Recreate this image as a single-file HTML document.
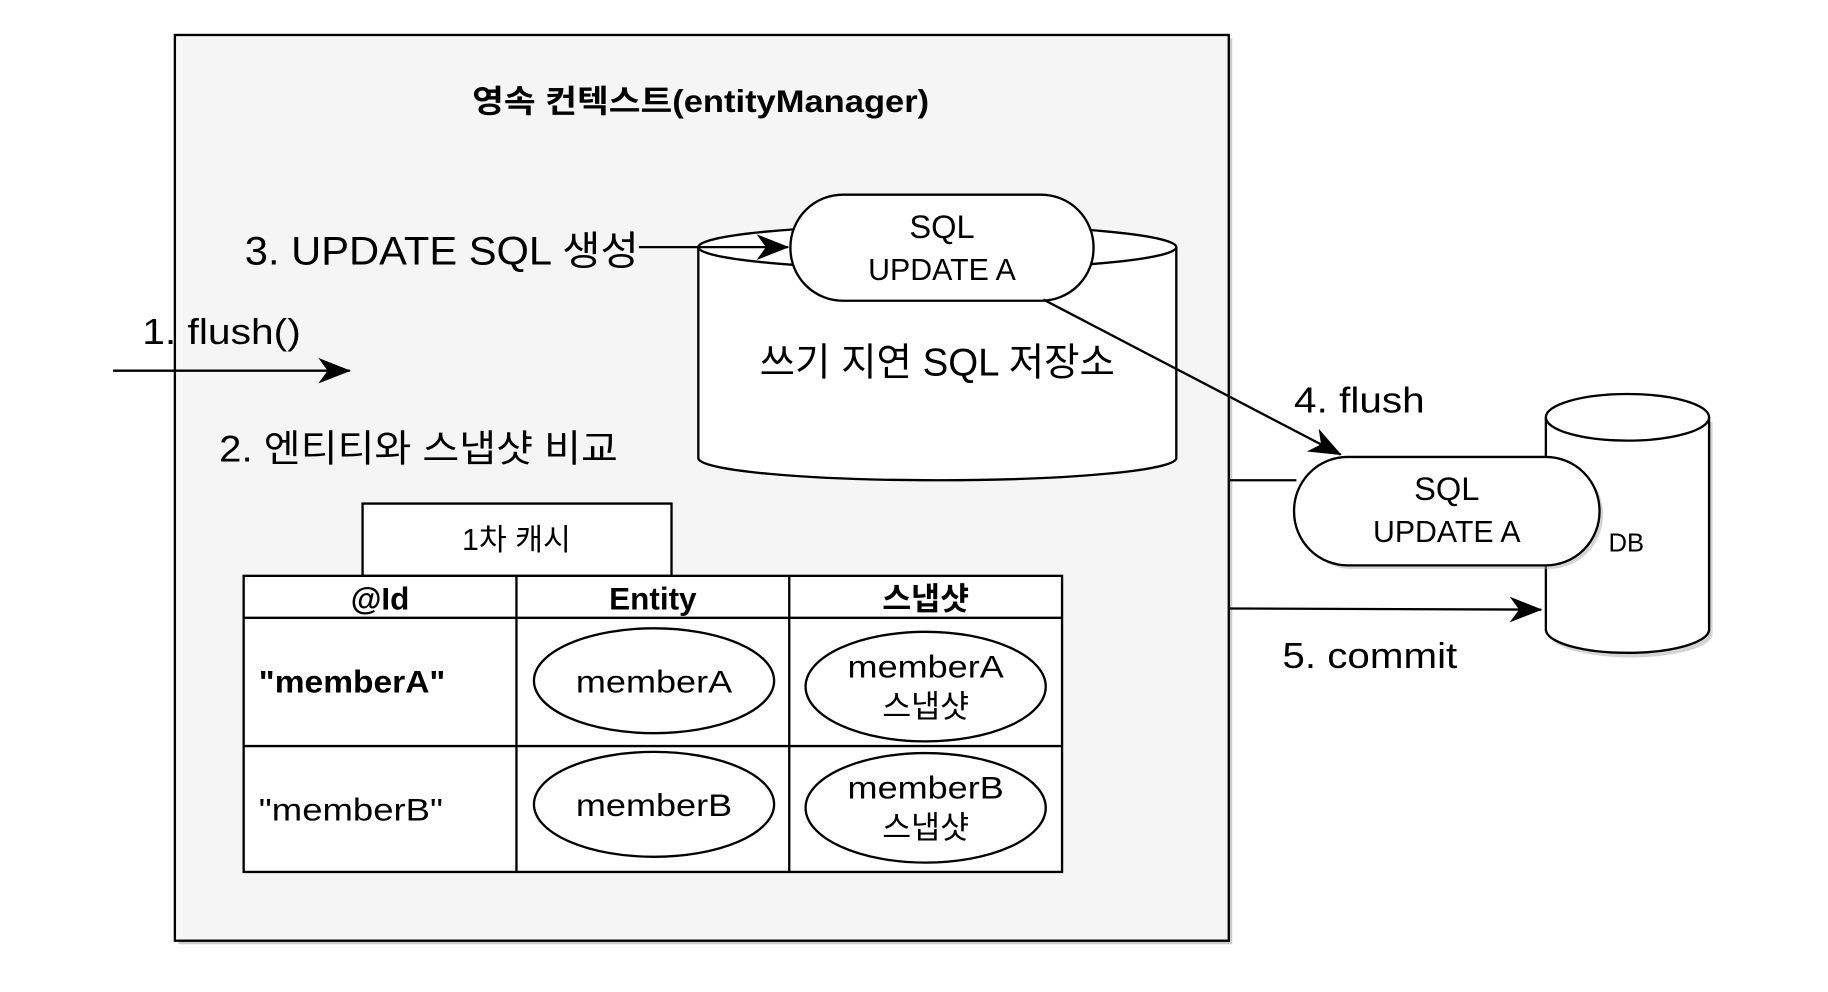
<!DOCTYPE html>
<html><head><meta charset="utf-8"><style>
html,body{margin:0;padding:0;background:#fff;}
svg{display:block;}
text{font-family:"Liberation Sans","Noto Sans CJK KR",sans-serif;fill:#000;}
</style></head><body>
<svg width="1828" height="992" viewBox="0 0 1568 851" preserveAspectRatio="none" xmlns="http://www.w3.org/2000/svg">
<defs>
<marker id="ah2" markerWidth="28" markerHeight="22" refX="27" refY="11" orient="auto" markerUnits="userSpaceOnUse" viewBox="0 0 28 22">
<path d="M0,0 L28,11 L0,22 L8,11 Z" fill="#000"/>
</marker>
</defs>
<rect x="153" y="33" width="904" height="777" fill="#999" opacity="0.5"/>
<rect x="150" y="30" width="904" height="777" fill="#f5f5f5" stroke="#000" stroke-width="2"/>
<text x="405" y="96" font-size="27" font-weight="bold" textLength="392" lengthAdjust="spacingAndGlyphs">영속 컨텍스트(entityManager)</text>

<path d="M599,212 L599,393 A205,19 0 0 0 1009,393 L1009,212" fill="#fff" stroke="#000" stroke-width="2"/>
<ellipse cx="804" cy="212" rx="205" ry="19" fill="#fff" stroke="#000" stroke-width="2"/>
<rect x="678" y="167" width="260" height="91" rx="45" fill="#fff" stroke="#000" stroke-width="2"/>
<text x="808" y="204" font-size="28" text-anchor="middle">SQL</text>
<text x="808" y="240" font-size="26" text-anchor="middle">UPDATE A</text>
<text x="804" y="322" font-size="33" text-anchor="middle">쓰기 지연 SQL 저장소</text>

<text x="210" y="227" font-size="34" textLength="338" lengthAdjust="spacingAndGlyphs">3. UPDATE SQL 생성</text>
<line x1="548" y1="212" x2="676" y2="212" stroke="#000" stroke-width="2" marker-end="url(#ah2)"/>
<text x="122" y="295" font-size="31" textLength="136" lengthAdjust="spacingAndGlyphs">1. flush()</text>
<line x1="97" y1="318" x2="300" y2="318" stroke="#000" stroke-width="2" marker-end="url(#ah2)"/>
<text x="188" y="396" font-size="32" textLength="342" lengthAdjust="spacingAndGlyphs">2. 엔티티와 스냅샷 비교</text>

<line x1="895" y1="257" x2="1150" y2="390" stroke="#000" stroke-width="2" marker-end="url(#ah2)"/>
<text x="1110" y="354" font-size="31" textLength="112" lengthAdjust="spacingAndGlyphs">4. flush</text>

<path d="M1329,362 L1329,544 A70,20 0 0 0 1469,544 L1469,362" fill="#aaa" opacity="0.5"/>
<path d="M1326,358 L1326,540 A70,20 0 0 0 1466,540 L1466,358" fill="#fff" stroke="#000" stroke-width="2"/>
<ellipse cx="1396" cy="358" rx="70" ry="20" fill="#fff" stroke="#000" stroke-width="2"/>
<line x1="1054" y1="412" x2="1112" y2="412" stroke="#000" stroke-width="2"/>
<rect x="1113" y="395" width="262" height="93" rx="46" fill="#aaa" opacity="0.5"/>
<rect x="1110" y="392" width="262" height="93" rx="46" fill="#fff" stroke="#000" stroke-width="2"/>
<text x="1241" y="429" font-size="28" text-anchor="middle">SQL</text>
<text x="1241" y="465" font-size="26" text-anchor="middle">UPDATE A</text>
<text x="1395" y="473" font-size="22" text-anchor="middle">DB</text>
<line x1="1054" y1="522" x2="1322" y2="523" stroke="#000" stroke-width="2" marker-end="url(#ah2)"/>
<text x="1100" y="573" font-size="31" textLength="150" lengthAdjust="spacingAndGlyphs">5. commit</text>

<rect x="311" y="432" width="265" height="62" fill="#fff" stroke="#000" stroke-width="2"/>
<text x="443" y="472" font-size="26" text-anchor="middle">1차 캐시</text>
<rect x="209" y="494" width="702" height="254" fill="#fff" stroke="#000" stroke-width="2"/>
<line x1="209" y1="530" x2="911" y2="530" stroke="#000" stroke-width="2"/>
<line x1="209" y1="640" x2="911" y2="640" stroke="#000" stroke-width="2"/>
<line x1="443" y1="494" x2="443" y2="748" stroke="#000" stroke-width="2"/>
<line x1="677" y1="494" x2="677" y2="748" stroke="#000" stroke-width="2"/>
<text x="326" y="523" font-size="27" font-weight="bold" text-anchor="middle">@Id</text>
<text x="560" y="523" font-size="27" font-weight="bold" text-anchor="middle">Entity</text>
<text x="794" y="523" font-size="27" font-weight="bold" text-anchor="middle">스냅샷</text>
<text x="222" y="594" font-size="27" font-weight="bold" textLength="160" lengthAdjust="spacingAndGlyphs">"memberA"</text>
<text x="222" y="704" font-size="27" textLength="158" lengthAdjust="spacingAndGlyphs">"memberB"</text>
<ellipse cx="561" cy="584" rx="103" ry="45" fill="#fff" stroke="#000" stroke-width="2"/>
<text x="561" y="594" font-size="27" text-anchor="middle" textLength="134" lengthAdjust="spacingAndGlyphs">memberA</text>
<ellipse cx="561" cy="690" rx="103" ry="45" fill="#fff" stroke="#000" stroke-width="2"/>
<text x="561" y="700" font-size="27" text-anchor="middle" textLength="134" lengthAdjust="spacingAndGlyphs">memberB</text>
<ellipse cx="794" cy="589" rx="103" ry="47" fill="#fff" stroke="#000" stroke-width="2"/>
<text x="794" y="581" font-size="27" text-anchor="middle" textLength="134" lengthAdjust="spacingAndGlyphs">memberA</text>
<text x="794" y="615" font-size="27" text-anchor="middle">스냅샷</text>
<ellipse cx="794" cy="693" rx="103" ry="47" fill="#fff" stroke="#000" stroke-width="2"/>
<text x="794" y="685" font-size="27" text-anchor="middle" textLength="134" lengthAdjust="spacingAndGlyphs">memberB</text>
<text x="794" y="719" font-size="27" text-anchor="middle">스냅샷</text>
</svg>
</body></html>
